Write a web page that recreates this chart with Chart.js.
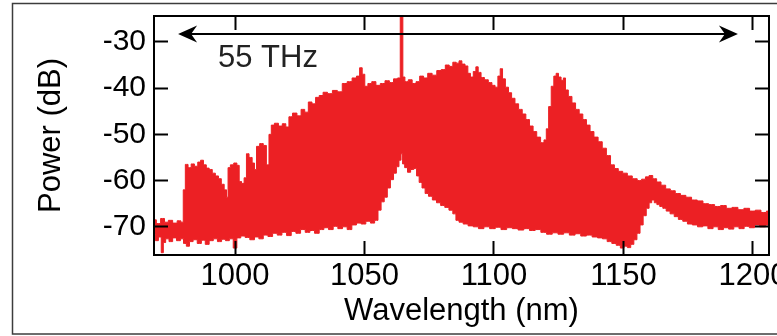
<!DOCTYPE html>
<html>
<head>
<meta charset="utf-8">
<script src="https://cdn.jsdelivr.net/npm/chart.js@4/dist/chart.umd.min.js"></script>
<style>
	body { margin: 0; background: #fff; }
	canvas { display: block; }
</style>
</head>
<body>
<canvas id="spectrum" width="777" height="336"></canvas>
<script>
// Comb spectrum: upper and lower envelopes, filled between them
const upperNm = [968.7, 970.5, 972.0, 973.5, 975.0, 976.8, 978.5, 979.6, 980.4, 981.2, 982.5, 983.6, 985.0, 986.2, 987.2, 988.4, 989.4, 990.6, 991.8, 993.0, 994.2, 995.2, 996.4, 997.0, 997.6, 998.8, 1000.2, 1001.2, 1002.0, 1003.0, 1004.0, 1004.8, 1006.0, 1007.2, 1007.8, 1008.8, 1010.2, 1011.6, 1012.6, 1013.6, 1014.4, 1016.0, 1017.5, 1019.0, 1020.2, 1021.4, 1023.0, 1024.8, 1026.2, 1027.6, 1029.0, 1030.4, 1031.8, 1033.2, 1034.8, 1036.6, 1038.6, 1040.4, 1042.4, 1044.2, 1046.2, 1047.6, 1048.6, 1049.6, 1050.6, 1052.0, 1053.6, 1055.2, 1057.0, 1058.8, 1060.4, 1062.0, 1063.6, 1064.0, 1064.6, 1065.0, 1066.2, 1067.6, 1069.2, 1070.6, 1072.0, 1073.6, 1075.2, 1077.0, 1078.8, 1080.4, 1082.0, 1083.4, 1084.8, 1086.0, 1087.0, 1088.2, 1089.4, 1090.4, 1091.4, 1092.6, 1093.4, 1094.4, 1095.6, 1097.0, 1098.6, 1099.8, 1101.0, 1102.0, 1102.8, 1103.8, 1105.0, 1106.2, 1107.4, 1108.8, 1110.2, 1111.6, 1113.0, 1114.4, 1115.8, 1117.2, 1118.8, 1119.8, 1120.6, 1121.6, 1122.6, 1123.6, 1124.4, 1125.4, 1126.4, 1127.2, 1128.0, 1129.4, 1130.8, 1132.2, 1133.6, 1135.0, 1136.4, 1137.8, 1139.4, 1141.0, 1142.6, 1144.2, 1145.8, 1147.2, 1148.8, 1150.6, 1152.4, 1154.4, 1156.2, 1157.8, 1159.2, 1160.6, 1162.0, 1163.6, 1165.4, 1167.2, 1169.0, 1171.0, 1173.0, 1175.2, 1177.4, 1179.6, 1181.8, 1184.0, 1186.4, 1188.6, 1190.8, 1193.0, 1195.4, 1197.6, 1199.8, 1202.0, 1204.2, 1206.2];
const upperDb = [-68.5, -69.3, -68.2, -69.0, -68.6, -69.2, -68.7, -69.0, -62, -56.5, -57.2, -56.4, -56.9, -56.0, -55.6, -56.6, -57.3, -57.6, -58.4, -59.0, -59.6, -60.8, -62.0, -63.6, -57.2, -56.6, -56.2, -56.7, -60.2, -60.6, -59.4, -54.2, -55.0, -56.2, -57.6, -52.6, -52.0, -52.4, -56.6, -50.0, -48.0, -47.6, -48.2, -47.7, -48.4, -46.2, -45.4, -46.0, -44.6, -45.2, -43.0, -43.4, -42.0, -41.6, -40.9, -41.2, -40.5, -40.8, -39.0, -38.6, -37.8, -37.4, -35.6, -37.0, -39.6, -39.0, -38.6, -39.4, -39.0, -38.4, -38.8, -38.0, -37.8, -22, -22, -37.6, -38.6, -38.2, -39.0, -38.6, -37.4, -37.8, -36.8, -37.2, -36.2, -36.0, -35.0, -35.3, -34.4, -34.6, -34.1, -34.8, -35.2, -36.8, -37.6, -36.4, -35.4, -36.6, -37.7, -38.2, -38.8, -39.4, -39.8, -37.4, -35.8, -38.0, -39.8, -41.0, -42.2, -43.4, -44.6, -45.6, -46.8, -48.2, -49.4, -50.6, -51.8, -51.2, -48.8, -44.0, -39.6, -37.4, -36.8, -37.6, -38.3, -37.8, -40.4, -41.8, -43.2, -44.6, -45.6, -46.8, -48.0, -49.4, -50.6, -51.6, -53.0, -54.6, -56.6, -57.4, -58.0, -58.4, -59.0, -59.6, -60.0, -59.7, -59.2, -58.9, -59.6, -60.3, -61.0, -61.8, -62.2, -62.8, -63.2, -63.6, -64.2, -64.4, -65.0, -65.2, -65.6, -65.4, -66.0, -65.8, -66.3, -66.0, -66.6, -66.4, -66.9, -66.6];

const lowerNm = [968.7, 969.8, 971.0, 972.0, 972.6, 973.8, 975.2, 976.6, 978.2, 979.6, 980.6, 981.8, 983.0, 984.6, 986.2, 987.8, 989.2, 990.8, 992.4, 994.0, 995.6, 997.0, 998.6, 1000.0, 1001.4, 1003.0, 1004.8, 1006.6, 1008.4, 1010.0, 1011.8, 1013.6, 1015.4, 1017.2, 1019.0, 1020.8, 1022.6, 1024.4, 1026.2, 1028.0, 1029.8, 1031.6, 1033.4, 1035.2, 1037.0, 1038.8, 1040.6, 1042.4, 1044.2, 1046.0, 1047.8, 1049.6, 1051.4, 1053.2, 1054.6, 1055.8, 1057.0, 1058.2, 1059.4, 1060.6, 1061.8, 1062.8, 1063.8, 1064.4, 1065.0, 1066.0, 1067.2, 1068.4, 1069.6, 1070.6, 1071.6, 1072.8, 1074.0, 1075.4, 1077.0, 1078.6, 1080.2, 1081.8, 1083.4, 1084.8, 1085.8, 1087.2, 1089.0, 1091.0, 1093.0, 1095.0, 1097.2, 1099.4, 1101.6, 1103.8, 1106.0, 1108.2, 1110.4, 1112.6, 1114.8, 1117.0, 1119.2, 1121.4, 1123.6, 1125.8, 1128.0, 1130.2, 1132.4, 1134.6, 1136.8, 1139.0, 1141.0, 1142.8, 1144.6, 1146.4, 1148.0, 1149.6, 1150.8, 1152.2, 1153.4, 1154.6, 1155.8, 1157.0, 1158.2, 1159.4, 1160.4, 1161.4, 1162.4, 1163.4, 1164.6, 1165.8, 1167.2, 1168.8, 1170.4, 1172.0, 1173.8, 1175.6, 1177.6, 1179.6, 1181.6, 1183.6, 1185.6, 1187.6, 1189.6, 1191.6, 1193.6, 1195.6, 1197.6, 1199.6, 1201.6, 1203.6, 1206.2];
const lowerDb = [-71.6, -73.0, -72.2, -75.6, -73.4, -72.6, -73.2, -72.4, -73.0, -72.6, -73.6, -74.2, -73.2, -72.8, -73.6, -72.9, -73.8, -73.0, -72.6, -73.2, -72.7, -73.0, -72.6, -74.6, -72.4, -72.0, -72.3, -72.8, -72.2, -72.6, -71.8, -72.1, -71.4, -71.8, -71.2, -71.9, -71.0, -71.4, -70.6, -71.2, -70.8, -71.4, -70.6, -70.2, -70.6, -69.9, -70.4, -70.0, -70.6, -69.6, -69.2, -69.4, -68.8, -69.2, -68.6, -66.4, -64.6, -63.6, -61.6, -59.8, -58.4, -57.0, -55.6, -54.2, -56.4, -57.2, -58.2, -57.6, -57.4, -59.0, -60.4, -61.6, -62.8, -63.4, -64.2, -64.8, -65.4, -65.8, -66.4, -67.2, -68.6, -69.0, -69.4, -69.8, -70.0, -70.4, -70.0, -70.4, -70.1, -70.6, -70.2, -70.4, -70.7, -70.4, -70.8, -70.6, -71.2, -71.6, -71.3, -71.6, -71.3, -71.8, -71.5, -72.0, -71.8, -72.2, -72.4, -72.6, -73.2, -73.6, -74.0, -74.6, -74.2, -74.5, -73.8, -72.8, -71.4, -69.6, -67.6, -66.0, -64.8, -64.2, -64.8, -65.2, -65.6, -66.0, -66.6, -67.2, -67.8, -68.4, -68.8, -69.4, -69.6, -70.0, -69.8, -70.4, -70.0, -70.6, -70.2, -70.5, -70.0, -70.4, -69.9, -70.2, -69.6, -70.0, -69.6];

// Axes
const xRange = [968.7, 1206.2];
const yRange = [-76.1, -24.4];
const xTicks = [1000, 1050, 1100, 1150, 1200];
const yTicks = [-70, -60, -50, -40, -30];

// Span arrow and its label
const spanNm = [978, 1194.2];
const spanDb = -28.3;
const spanLabel = "55 THz";
const spanLabelAt = [993.4, -33.5];

const red = "rgb(236,32,36)";
const font = "'Liberation Sans', Arial, sans-serif";

const toPoints = (xs, ys) => xs.map((x, i) => ({x, y: ys[i]}));

// grey frame round the whole figure
const framePlugin = {
	id: "frame",
	beforeDraw(chart) {
		const {ctx} = chart;
		ctx.save();
		ctx.strokeStyle = "#3c3c3c";
		ctx.lineWidth = 1.5;
		ctx.strokeRect(12.5, 3.5, 800, 330.5);
		ctx.restore();
	}
};

const arrowHead = (ctx, x, y, dir) => {
	ctx.beginPath();
	ctx.moveTo(x, y);
	ctx.lineTo(x - dir * 19, y - 8.5);
	ctx.lineTo(x - dir * 13, y);
	ctx.lineTo(x - dir * 19, y + 8.5);
	ctx.closePath();
	ctx.fill();
};

const spanPlugin = {
	id: "span",
	afterDatasetsDraw(chart) {
		const {ctx, scales} = chart;
		const x1 = scales.x.getPixelForValue(spanNm[0]);
		const x2 = scales.x.getPixelForValue(spanNm[1]);
		const y = scales.y.getPixelForValue(spanDb);
		ctx.save();
		ctx.strokeStyle = "#000";
		ctx.fillStyle = "#000";
		ctx.lineWidth = 2;
		ctx.beginPath();
		ctx.moveTo(x1 + 10, y);
		ctx.lineTo(x2 - 10, y);
		ctx.stroke();
		arrowHead(ctx, x1, y, -1);
		arrowHead(ctx, x2, y, 1);
		ctx.font = `31px ${font}`;
		ctx.textAlign = "left";
		ctx.textBaseline = "middle";
		ctx.fillStyle = "#222";
		ctx.fillText(spanLabel, scales.x.getPixelForValue(spanLabelAt[0]), scales.y.getPixelForValue(spanLabelAt[1]));
		ctx.restore();
	}
};

// tick marks point into the plot and sit on top of the trace
const tickGrid = {drawOnChartArea: false, tickLength: -14, tickWidth: 2, tickColor: "#000", z: 1};
const axisBorder = {color: "#000", width: 2, z: 1};
const setTicks = (values) => (scale) => {
	scale.ticks = values.map((value) => ({value}));
};
// fixed box size, and no extra room reserved for labels at the ends
const fixSize = (key, size) => (scale) => {
	scale[key] = size;
	scale.paddingLeft = scale.paddingRight = scale.paddingTop = scale.paddingBottom = 0;
};

Chart.defaults.color = "#000";

new Chart(document.getElementById("spectrum"), {
	type: "line",
	data: {
		datasets: [
			{
				data: toPoints(upperNm, upperDb),
				borderColor: red,
				backgroundColor: red,
				borderWidth: 1,
				pointRadius: 0,
				stepped: "middle",
				fill: 1
			},
			{
				data: toPoints(lowerNm, lowerDb),
				borderColor: red,
				borderWidth: 1,
				pointRadius: 0,
				stepped: "middle",
				fill: false
			}
		]
	},
	options: {
		responsive: false,
		animation: false,
		layout: {padding: 0},
		plugins: {legend: {display: false}, tooltip: {enabled: false}},
		scales: {
			x: {
				type: "linear",
				position: "bottom",
				min: xRange[0],
				max: xRange[1],
				z: 1,
				afterBuildTicks: setTicks(xTicks),
				afterFit: fixSize("height", 81),
				ticks: {font: {family: font, size: 31}, padding: 17, callback: (v) => String(v)},
				grid: tickGrid,
				border: axisBorder,
				title: {display: true, text: "Wavelength (nm)", font: {family: font, size: 31}, padding: {top: 0, bottom: 6}}
			},
			xTop: {
				type: "linear",
				position: "top",
				min: xRange[0],
				max: xRange[1],
				z: 1,
				afterBuildTicks: setTicks(xTicks),
				afterFit: fixSize("height", 16),
				ticks: {display: false},
				grid: tickGrid,
				border: axisBorder
			},
			y: {
				type: "linear",
				position: "left",
				min: yRange[0],
				max: yRange[1],
				z: 1,
				afterBuildTicks: setTicks(yTicks),
				afterFit: fixSize("width", 154),
				ticks: {font: {family: font, size: 30}, padding: 22, callback: (v) => String(v)},
				grid: tickGrid,
				border: axisBorder,
				title: {display: true, text: "Power (dB)", font: {family: font, size: 31}, padding: {top: 33, bottom: 0}}
			},
			yRight: {
				type: "linear",
				position: "right",
				min: yRange[0],
				max: yRange[1],
				z: 1,
				afterBuildTicks: setTicks(yTicks),
				afterFit: fixSize("width", 8),
				ticks: {display: false},
				grid: tickGrid,
				border: axisBorder
			}
		}
	},
	plugins: [framePlugin, spanPlugin]
});
</script>
</body>
</html>
